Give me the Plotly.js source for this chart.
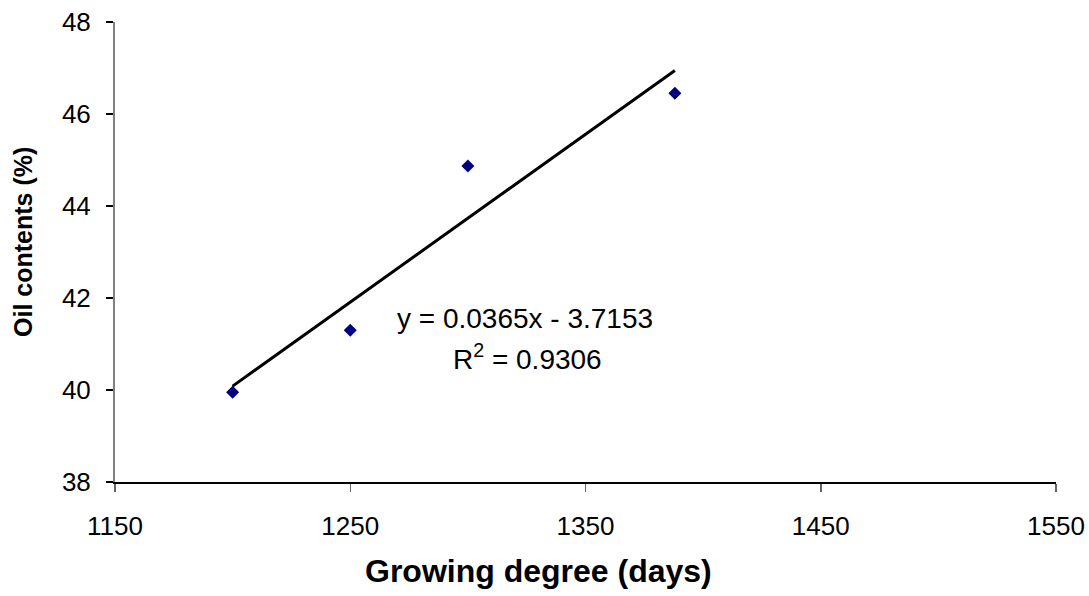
<!DOCTYPE html>
<html>
<head>
<meta charset="utf-8">
<script src="https://cdn.plot.ly/plotly-3.0.1.min.js"></script>
<style>html,body{margin:0;padding:0;background:#fff;}#chart{width:1089px;height:596px;}</style>
</head>
<body>
<div id="chart"></div>
<script>
const gddDays = [1200, 1250, 1300, 1388];
const oilContents = [39.95, 41.3, 44.87, 46.45];
const trendSlope = 0.0365;
const trendIntercept = -3.7153;
const rSquared = 0.9306;
const xTickVals = [1150, 1250, 1350, 1450, 1550];
const yTickVals = [38, 40, 42, 44, 46, 48];

const trendX = [gddDays[0], gddDays[gddDays.length - 1]];
const trendY = trendX.map(x => trendSlope * x + trendIntercept);

const font = "Liberation Sans, Arial, sans-serif";

const data = [
  {
    x: trendX, y: trendY, type: 'scatter', mode: 'lines',
    line: {color: '#000000', width: 3}, hoverinfo: 'skip', showlegend: false
  },
  {
    x: gddDays, y: oilContents, type: 'scatter', mode: 'markers',
    marker: {symbol: 'diamond', size: 10, color: '#000080'}, showlegend: false
  }
];

const layout = {
  width: 1089, height: 596,
  margin: {l: 115, r: 33, t: 22, b: 114},
  paper_bgcolor: '#ffffff', plot_bgcolor: '#ffffff',
  font: {family: font, color: '#000000', size: 20},
  showlegend: false,
  xaxis: {
    range: [1150, 1550], tickvals: xTickVals, ticktext: xTickVals.map(String),
    showgrid: false, zeroline: false, showline: true, linecolor: '#000000', linewidth: 1.5,
    ticks: 'outside', ticklen: 8, tickcolor: '#666666', tickwidth: 1.5,
    tickfont: {family: font, size: 26, color: '#000'}, ticklabelstandoff: 12
  },
  yaxis: {
    range: [38, 48], tickvals: yTickVals, ticktext: yTickVals.map(String),
    showgrid: false, zeroline: false, showline: true, linecolor: '#808080', linewidth: 2,
    ticks: 'outside', ticklen: 7, tickcolor: '#000000', tickwidth: 1.5,
    tickfont: {family: font, size: 26, color: '#000'}, ticklabelstandoff: 10
  },
  annotations: [
    {text: '<b>Growing degree (days)</b>', xref: 'paper', yref: 'paper',
     x: (538 - 115) / (1056 - 115), y: -(571 - 482) / 460, xanchor: 'center', yanchor: 'middle',
     showarrow: false, font: {family: font, size: 32, color: '#000'}},
    {text: '<b>Oil contents (%)</b>', xref: 'paper', yref: 'paper',
     x: -(115 - 23) / 941, y: (482 - 242) / 460, xanchor: 'center', yanchor: 'middle',
     textangle: -90, showarrow: false, font: {family: font, size: 25, color: '#000'}},
    {text: 'y = ' + trendSlope + 'x - ' + Math.abs(trendIntercept), xref: 'x', yref: 'y',
     x: 1150 + (525 - 115) / 2.3525, y: 38 + (482 - 318) / 46.03, xanchor: 'center', yanchor: 'middle',
     showarrow: false, font: {family: font, size: 28, color: '#000'}},
    {text: 'R<sup>2</sup> = ' + rSquared, xref: 'x', yref: 'y',
     x: 1150 + (527 - 115) / 2.3525, y: 38 + (482 - 357) / 46.03, xanchor: 'center', yanchor: 'middle',
     showarrow: false, font: {family: font, size: 28, color: '#000'}}
  ]
};

Plotly.newPlot('chart', data, layout, {displayModeBar: false, staticPlot: true});
</script>
</body>
</html>
